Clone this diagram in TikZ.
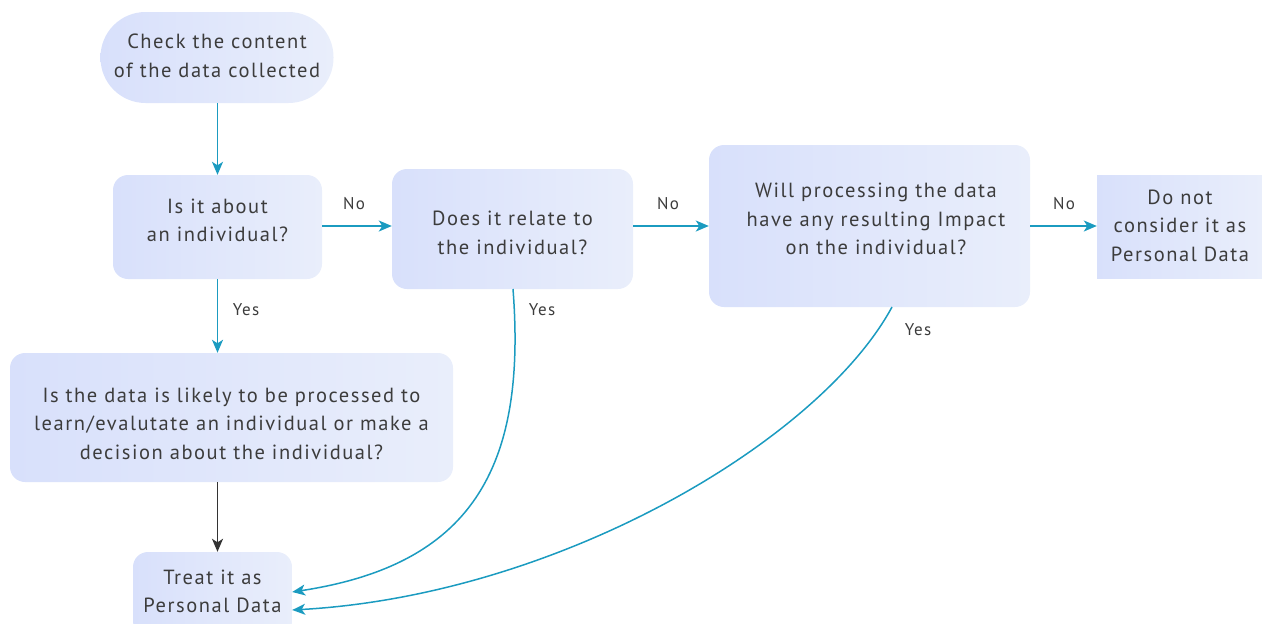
\documentclass[tikz,border=0pt]{standalone}
\usepackage{fontspec}
\setmainfont{PT Sans}[LetterSpace=7.5]
\usetikzlibrary{arrows.meta}
\definecolor{boxL}{HTML}{D8E0FB}
\definecolor{boxR}{HTML}{E9EEFB}
\definecolor{txt}{HTML}{3C3C3C}
\definecolor{flow}{HTML}{1B9BC0}
\definecolor{dark}{HTML}{333333}
\tikzset{
  box/.style={left color=boxL, right color=boxR, draw=none, rounded corners=15pt, inner sep=0pt},
  boxtext/.style={align=center, text=txt, font=\fontsize{20.5}{28.5}\selectfont, inner sep=0pt},
  flowarrow/.style={draw=flow, line width=1.5pt, -{Stealth[length=13pt,width=11pt,inset=3.5pt]}},
  darkarrow/.style={draw=dark, line width=1.5pt, -{Stealth[length=13pt,width=11pt,inset=3.5pt]}},
  lbl/.style={text=txt, font=\fontsize{17}{20}\selectfont, inner sep=0pt}
}
\begin{document}
\begin{tikzpicture}[x=1pt,y=-1pt]
\useasboundingbox (0,0) rectangle (1262,624);
% box shapes
\node[box, rounded corners=45pt, minimum width=233pt, minimum height=91pt] (start) at (217,57.5) {};
\node[box, minimum width=209pt, minimum height=104pt] (about) at (217.5,227) {};
\node[box, minimum width=241pt, minimum height=120pt] (relate) at (512.5,229) {};
\node[box, minimum width=321pt, minimum height=162pt] (impact) at (869.5,226) {};
\node[box, rounded corners=0pt, minimum width=165pt, minimum height=103pt] (notpd) at (1179.5,226.5) {};
\node[box, minimum width=443pt, minimum height=129pt] (learn) at (231.5,417.5) {};
\node[box, minimum width=159pt, minimum height=84pt] (treat) at (212.5,594) {};
% box texts
\node[boxtext] (start-t) at (217,56) {Check the content\\of the data collected};
\node[boxtext] (about-t) at (217.5,220.5) {Is it about\\an individual?};
\node[boxtext] (relate-t) at (512.5,233) {Does it relate to\\the individual?};
\node[boxtext] (impact-t) at (876,219) {Will processing the data\\have any resulting Impact\\on the individual?};
\node[boxtext] (notpd-t) at (1180,225.5) {Do not\\consider it as\\Personal Data};
\node[boxtext] (learn-t) at (231.5,423.5) {Is the data is likely to be processed to\\learn/evalutate an individual or make a\\decision about the individual?};
\node[boxtext] (treat-t) at (212.5,591.5) {Treat it as\\Personal Data};
% connectors
\coordinate (row) at (0,226);
\coordinate (relS) at (513,289);
\coordinate (impS) at (892,307);
\draw[flowarrow] (start.south -| about.north) -- (about.north);
\draw[flowarrow] (about.east |- row) -- (relate.west |- row);
\draw[flowarrow] (relate.east |- row) -- (impact.west |- row);
\draw[flowarrow] (impact.east |- row) -- (notpd.west |- row);
\draw[flowarrow] (about.south) -- (about.south |- learn.north);
\draw[darkarrow] (learn.south -| about.south) -- (treat.north -| about.south);
\draw[flowarrow] (relS) .. controls (527,470) and (470,565) .. (treat.east |- 0,592);
\draw[flowarrow] (impS) .. controls (820,440) and (560,595) .. (treat.east |- 0,610);
% branch labels
\node[lbl] (no1) at (354,204) {No};
\node[lbl] (no2) at (668,204) {No};
\node[lbl] (no3) at (1064,204) {No};
\node[lbl] (yes1) at (246,310) {Yes};
\node[lbl] (yes2) at (542,310) {Yes};
\node[lbl] (yes3) at (918,330) {Yes};
\end{tikzpicture}
\end{document}
